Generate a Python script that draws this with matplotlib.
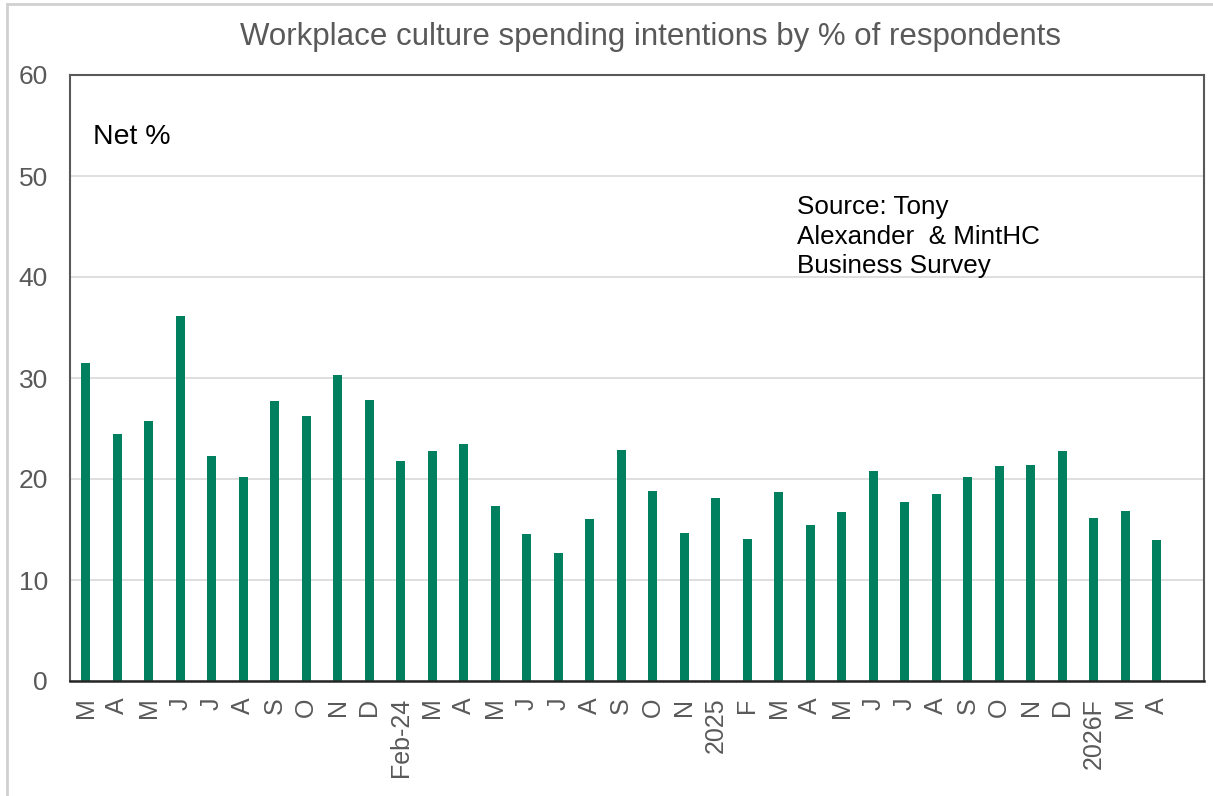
import matplotlib
matplotlib.use("Agg")
import matplotlib.pyplot as plt
from matplotlib import font_manager
from matplotlib.lines import Line2D

# Monthly survey results (net % of respondents)
months = ["M", "A", "M", "J", "J", "A", "S", "O", "N", "D", "Feb-24",
          "M", "A", "M", "J", "J", "A", "S", "O", "N", "2025",
          "F", "M", "A", "M", "J", "J", "A", "S", "O", "N", "D", "2026F",
          "M", "A"]
net_pct = [31.5, 24.5, 25.7, 36.1, 22.3, 20.2, 27.7, 26.2, 30.3, 27.8, 21.8,
           22.8, 23.5, 17.3, 14.6, 12.7, 16.0, 22.9, 18.8, 14.7, 18.1,
           14.1, 18.7, 15.4, 16.7, 20.8, 17.7, 18.5, 20.2, 21.3, 21.4, 22.8,
           16.1, 16.8, 14.0]
y_ticks = [0, 10, 20, 30, 40, 50, 60]

title_text = "Workplace culture spending intentions by % of respondents"
unit_text = "Net %"
source_text = "Source: Tony\nAlexander  & MintHC\nBusiness Survey"

available = {f.name for f in font_manager.fontManager.ttflist}
base_font = "Liberation Sans" if "Liberation Sans" in available else "DejaVu Sans"
plt.rcParams["font.family"] = [base_font, "DejaVu Sans"]

BAR = "#00805F"
GREY_TXT = "#595959"

W, H = 1213, 796
fig = plt.figure(figsize=(W / 100, H / 100), dpi=100)
fig.patch.set_facecolor("white")

ax = fig.add_axes([70 / W, 1 - 681 / H, 1134 / W, 606 / H])
x = list(range(len(months)))
ax.bar(x, net_pct, width=0.3, color=BAR, zorder=3)

ax.set_xlim(-0.5, len(months) + 0.5)
ax.set_ylim(0, 60)
ax.set_yticks(y_ticks)
ax.set_xticks(x)
ax.set_xticklabels(months, rotation=90, va="top", ha="center")
ax.tick_params(axis="y", length=0, pad=16, labelsize=19, labelcolor=GREY_TXT)
ax.tick_params(axis="x", length=0, pad=12, labelsize=18, labelcolor=GREY_TXT)
ax.yaxis.grid(True, color="#d9d9d9", linewidth=1.2, zorder=0)
ax.set_axisbelow(True)
for side in ["left", "top", "right"]:
    ax.spines[side].set_color("#595959")
    ax.spines[side].set_linewidth(1.5)
ax.spines["bottom"].set_color("#262626")
ax.spines["bottom"].set_linewidth(1.8)
ax.spines["bottom"].set_zorder(4)

ax.text(93 / W, 1 - 144 / H, unit_text, transform=fig.transFigure,
        fontsize=20.5, color="black", ha="left", va="baseline")
ax.text(797 / W, 1 - 195 / H, source_text, transform=fig.transFigure,
        fontsize=18.7, color="black", ha="left", va="top",
        multialignment="left", linespacing=1.3)

fig.text(651 / W, 1 - 44.5 / H, title_text, fontsize=22.5, color=GREY_TXT,
         ha="center", va="baseline")

# Thin frame around the chart area
fig.add_artist(Line2D([7 / W, 1], [1 - 3.5 / H, 1 - 3.5 / H],
                      transform=fig.transFigure, color="#d0d0d0", linewidth=2))
fig.add_artist(Line2D([7 / W, 7 / W], [0, 1 - 3.5 / H],
                      transform=fig.transFigure, color="#d0d0d0", linewidth=2))

fig.savefig("out.png", dpi=100, facecolor="white")
